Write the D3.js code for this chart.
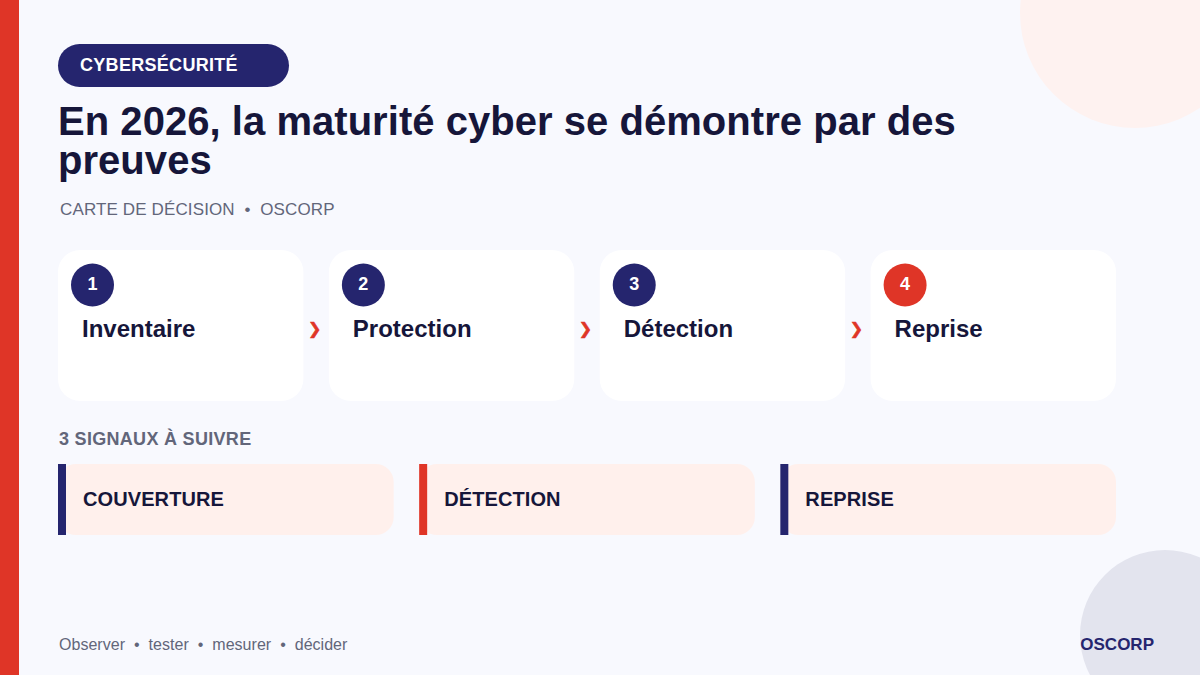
<!DOCTYPE html>
<html lang="fr">
<head>
<meta charset="UTF-8">
<script src="https://d3js.org/d3.v7.min.js"></script>
<style>
  html, body { margin: 0; padding: 0; background: #f8f9fe; }
  svg { display: block; font-family: "Liberation Sans", Arial, sans-serif; }
</style>
<title>Cybersécurité</title>
</head>
<body>
<div class="canvas"></div>
<script>
const tag = 'CYBERSÉCURITÉ'
const titleLines = ['En 2026, la maturité cyber se démontre par des', 'preuves']
const subtitle = 'CARTE DE DÉCISION  •  OSCORP'
const steps = ['Inventaire', 'Protection', 'Détection', 'Reprise']
const stepAccent = [false, false, false, true]
const signalsTitle = '3 SIGNAUX À SUIVRE'
const signals = ['COUVERTURE', 'DÉTECTION', 'REPRISE']
const signalAccent = [false, true, false]
const footer = 'Observer  •  tester  •  mesurer  •  décider'
const brand = 'OSCORP'

const navy = '#25256e', red = '#df3527', ink = '#16163a', grey = '#62667a'

const svg = d3.select('.canvas').append('svg')
  .attr('width', 1200).attr('height', 675)

svg.append('rect').attr('width', 1200).attr('height', 675).attr('fill', '#f8f9fe')
svg.append('circle').attr('cx', 1135).attr('cy', 13).attr('r', 115).attr('fill', '#fef2f0')
svg.append('circle').attr('cx', 1165).attr('cy', 635).attr('r', 85).attr('fill', '#e3e4ee')
svg.append('rect').attr('width', 19).attr('height', 675).attr('fill', red)

svg.append('rect').attr('x', 58).attr('y', 44).attr('width', 231).attr('height', 43).attr('rx', 21.5).attr('fill', navy)
svg.append('text').attr('x', 80).attr('y', 70.5).attr('fill', '#fff')
  .attr('font-size', 18).attr('font-weight', 700).attr('letter-spacing', 0.3).text(tag)

svg.selectAll('.title').data(titleLines).enter().append('text')
  .attr('class', 'title')
  .attr('x', 58).attr('y', (d, i) => 135 + i * 39)
  .attr('fill', ink).attr('font-size', 40).attr('font-weight', 700).attr('letter-spacing', 0.04).text(d => d)

svg.append('text').attr('x', 60).attr('y', 215).attr('fill', grey)
  .attr('font-size', 17).attr('letter-spacing', 0.13).style('white-space', 'pre').text(subtitle)

// step cards
const xStep = d3.scaleBand().domain(steps).range([58, 1116]).paddingInner(0.094).paddingOuter(0)
const stepG = svg.selectAll('.step').data(steps).enter().append('g')
  .attr('class', 'step')
  .attr('transform', d => `translate(${xStep(d)},250)`)
stepG.append('rect').attr('width', xStep.bandwidth()).attr('height', 151).attr('rx', 22).attr('fill', '#fff')
stepG.append('circle').attr('cx', 34.5).attr('cy', 35).attr('r', 21.5)
  .attr('fill', (d, i) => stepAccent[i] ? red : navy)
stepG.append('text').attr('x', 34.5).attr('y', 40).attr('text-anchor', 'middle')
  .attr('fill', '#fff').attr('font-size', 18).attr('font-weight', 700).text((d, i) => i + 1)
stepG.append('text').attr('x', 24).attr('y', 87).attr('fill', ink)
  .attr('font-size', 24).attr('font-weight', 700).text(d => d)

svg.selectAll('.chev').data(steps.slice(1)).enter().append('text')
  .attr('class', 'chev')
  .attr('x', d => xStep(d) - 14.2).attr('y', 333.5).attr('text-anchor', 'middle')
  .attr('fill', red).attr('stroke', red).attr('stroke-width', 0.6)
  .attr('font-size', 16).attr('font-weight', 700)
  .style('font-family', '"DejaVu Sans"').text('❯')

svg.append('text').attr('x', 59).attr('y', 445).attr('fill', grey)
  .attr('font-size', 18).attr('font-weight', 700).attr('letter-spacing', 0.3).text(signalsTitle)

// signal cards
const xSignal = d3.scaleBand().domain(signals).range([58, 1116]).paddingInner(0.0706).paddingOuter(0)
const sigG = svg.selectAll('.signal').data(signals).enter().append('g')
  .attr('class', 'signal')
  .attr('transform', d => `translate(${xSignal(d)},464)`)
sigG.append('rect').attr('width', xSignal.bandwidth()).attr('height', 71).attr('rx', 18).attr('fill', '#fff0ec')
sigG.append('rect').attr('width', 8).attr('height', 71).attr('fill', (d, i) => signalAccent[i] ? red : navy)
sigG.append('text').attr('x', 25).attr('y', 42).attr('fill', ink)
  .attr('font-size', 20).attr('font-weight', 700).attr('letter-spacing', 0.1).text(d => d)

svg.append('text').attr('x', 59).attr('y', 650).attr('fill', grey)
  .attr('font-size', 16).attr('letter-spacing', 0.03).style('white-space', 'pre').text(footer)
svg.append('text').attr('x', 1154).attr('y', 650).attr('text-anchor', 'end').attr('fill', navy)
  .attr('font-size', 17).attr('font-weight', 700).text(brand)
</script>
</body>
</html>
